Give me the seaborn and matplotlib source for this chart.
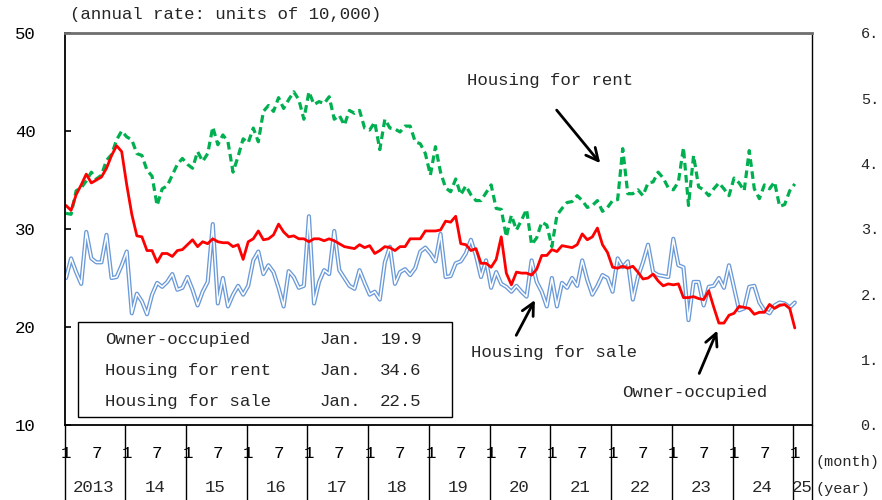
import numpy as np
import pandas as pd
import matplotlib
matplotlib.use('Agg')
import matplotlib.pyplot as plt
import matplotlib.transforms as mtrans
from matplotlib.patches import Rectangle
import seaborn as sns

# monthly series, Jan 2013 .. Jan 2025 (annual rate, units of 10,000)
owner = [32.4, 31.9, 33.5, 34.5, 35.6, 34.7, 35.0, 35.3, 36.2, 37.5, 38.5, 37.9,
         34.5, 31.5, 29.3, 29.2, 27.8, 27.8, 26.6, 27.5, 27.5, 27.2, 27.8, 27.9,
         28.4, 28.9, 28.2, 28.7, 28.5, 29.0, 28.7, 28.6, 28.6, 28.2, 28.4, 26.9,
         28.7, 29.0, 29.8, 28.9, 29.0, 29.4, 30.5, 29.7, 29.2, 29.3, 29.0, 29.0,
         28.7, 29.0, 29.0, 28.8, 29.0, 28.8, 28.5, 28.2, 28.1, 28.0, 28.4, 28.1,
         28.3, 27.5, 27.8, 28.2, 28.1, 27.8, 28.2, 28.2, 29.0, 29.0, 29.0, 29.8,
         29.8, 29.8, 29.9, 30.8, 30.7, 31.3, 28.5, 28.4, 27.8, 28.0, 26.5, 26.5,
         26.1, 26.9, 29.2, 25.5, 24.3, 25.6, 25.5, 25.5, 25.3, 25.9, 27.3, 27.3,
         27.9, 27.7, 28.3, 28.2, 28.1, 28.4, 29.5, 28.9, 29.2, 30.1, 28.4, 27.6,
         26.1, 26.0, 26.2, 26.0, 26.2, 25.6, 24.9, 25.0, 25.4, 24.7, 24.2, 24.4,
         24.3, 24.4, 23.0, 23.0, 23.1, 22.9, 22.8, 23.7, 22.0, 20.4, 20.4, 21.2,
         21.4, 22.1, 22.0, 21.9, 21.3, 21.5, 21.5, 22.3, 21.9, 22.2, 22.3, 21.9,
         19.9]
rent = [31.6, 31.5, 33.9, 34.2, 34.9, 35.8, 35.1, 35.5, 37.0, 37.6, 39.1, 40.0,
        39.4, 39.1, 37.7, 37.5, 36.0, 35.4, 32.4, 34.1, 34.4, 35.5, 36.6, 37.2,
        36.6, 36.2, 37.9, 36.9, 37.7, 40.4, 38.6, 39.6, 38.9, 35.8, 37.4, 39.2,
        38.8, 40.3, 38.9, 42.0, 42.6, 42.0, 43.4, 42.3, 43.2, 44.0, 43.2, 41.2,
        44.0, 42.7, 43.0, 42.8, 43.5, 41.2, 41.6, 40.6, 42.1, 41.8, 42.1, 40.3,
        40.1, 40.9, 38.1, 41.2, 40.3, 40.2, 39.9, 40.5, 40.5, 38.9, 38.7, 37.7,
        35.5, 38.4, 35.8, 34.2, 33.8, 35.1, 33.5, 34.4, 33.5, 32.9, 32.9, 33.7,
        34.5, 32.1, 32.0, 29.2, 31.4, 29.9, 30.9, 32.0, 28.4, 29.1, 30.7, 30.4,
        28.2, 31.4, 32.1, 32.7, 32.8, 33.4, 32.9, 32.2, 32.4, 32.9, 31.8, 32.2,
        32.9, 33.0, 38.2, 33.6, 33.6, 34.0, 33.4, 34.7, 34.8, 35.8, 35.2, 34.2,
        34.0, 34.8, 38.3, 32.4, 37.5, 34.3, 34.0, 33.4, 34.1, 34.7, 34.1, 33.4,
        35.2, 34.7, 33.9, 38.0, 34.1, 33.1, 34.5, 34.1, 34.8, 32.3, 32.5, 33.9,
        34.6]
sale = [25.0, 27.0, 25.6, 24.4, 29.7, 27.0, 26.6, 26.6, 29.4, 25.0, 25.1, 26.3,
        27.7, 21.4, 23.4, 22.6, 21.3, 23.3, 24.5, 24.1, 24.6, 25.4, 23.8, 24.0,
        25.1, 23.8, 22.2, 23.6, 24.6, 30.5, 22.4, 25.0, 22.1, 23.3, 24.2, 23.3,
        24.2, 26.8, 27.7, 25.4, 26.3, 25.6, 24.0, 22.1, 25.7, 25.1, 24.0, 24.2,
        31.3, 22.4, 24.6, 25.8, 25.4, 29.8, 25.8, 25.0, 24.2, 23.9, 25.8, 24.5,
        23.3, 23.6, 22.8, 26.6, 28.2, 24.4, 25.6, 25.9, 25.3, 26.0, 27.7, 28.1,
        27.5, 26.7, 29.5, 25.1, 25.2, 26.5, 26.7, 27.5, 28.9, 27.3, 25.1, 26.8,
        24.0, 25.6, 24.4, 24.1, 23.6, 24.2, 23.6, 23.1, 26.8, 24.6, 23.6, 22.1,
        25.0, 22.1, 24.5, 24.0, 25.0, 24.2, 26.8, 24.8, 23.3, 24.2, 25.3, 25.0,
        23.6, 27.0, 26.1, 26.7, 22.8, 25.1, 26.6, 28.4, 25.6, 25.3, 25.2, 25.1,
        29.0, 26.3, 26.1, 20.7, 24.6, 24.6, 22.2, 24.1, 24.2, 25.0, 24.0, 26.3,
        24.0, 21.7, 21.9, 24.1, 24.2, 22.5, 21.7, 21.4, 22.2, 22.5, 22.4, 22.0,
        22.5]

years = ['2013', '14', '15', '16', '17', '18', '19', '20', '21', '22', '23', '24', '25']
legend_names = ['Owner-occupied', 'Housing for rent', 'Housing for sale']
legend_vals = ['19.9', '34.6', '22.5']
right_labels = ['0.', '1.', '2.', '3.', '4.', '5.', '6.']

sns.set_theme(style='white')
plt.rcParams['font.family'] = ['Liberation Mono', 'DejaVu Sans']
FS = 12.5

df = pd.DataFrame({'m': np.arange(len(owner)), 'owner': owner,
                   'rent': rent, 'sale': sale})

fig = plt.figure(figsize=(8.82, 5), dpi=100)
ax = fig.add_axes([65 / 882, 75 / 500, 747 / 882, 392 / 500])

# sale is a double line: blue outline with a pale core
sns.lineplot(data=df, x='m', y='sale', color='#6b9ad8', lw=3.0, ax=ax)
sns.lineplot(data=df, x='m', y='sale', color='white', lw=1.1, ax=ax)
sns.lineplot(data=df, x='m', y='rent', color='#00b050', lw=2.3,
             linestyle=(0, (2.4, 1.4)), ax=ax)
sns.lineplot(data=df, x='m', y='owner', color='#ff0000', lw=2.0, ax=ax)

ax.set_xlim(-0.2, 147.4)
ax.set_ylim(10, 50)
ax.set_xlabel('')
ax.set_ylabel('')
ax.set_yticks([10, 20, 30, 40, 50])
ax.tick_params(axis='y', direction='in', length=4.5, width=1.2, pad=21,
               labelsize=FS, colors='black', left=True)

# month ticks: 1 and 7 for each year
xt = []
xl = []
for k in range(len(years)):
    xt.append(12 * k)
    xl.append('1')
    if k < len(years) - 1:
        xt.append(12 * k + 6)
        xl.append('7')
ax.set_xticks(xt)
ax.set_xticklabels(xl)
ax.tick_params(axis='x', length=0, pad=15, labelsize=FS, colors='black')

for side in ['left', 'bottom', 'right']:
    ax.spines[side].set_color('black')
    ax.spines[side].set_linewidth(1.3)
ax.spines['right'].set_linewidth(1.0)
ax.spines['top'].set_color('#6e6e6e')
ax.spines['top'].set_linewidth(2.0)

# year row and separators below the axis
trans = mtrans.blended_transform_factory(ax.transData, ax.transAxes)
bottom = -75 / 392
seps = [-0.2] + [12 * k - 0.3 for k in range(1, len(years))] + [147.4]
for s in seps:
    ax.plot([s, s], [0, bottom], transform=trans, color='black', lw=1.0,
            clip_on=False)
for k, yr in enumerate(years):
    xpos = 12 * k + 5.5 if k < len(years) - 1 else 145.5
    ax.text(xpos, -62 / 392, yr, transform=trans, ha='center', va='center',
            fontsize=FS)
fig.text(815 / 882, 1 - 462 / 500, '(month)', fontsize=11, va='center')
fig.text(815 / 882, 1 - 489 / 500, '(year)', fontsize=11, va='center')
fig.text(70 / 882, 1 - 14 / 500, '(annual rate: units of 10,000)',
         fontsize=FS, va='center')

# right axis (cut off at the image edge)
ax2 = ax.twinx()
ax2.set_ylim(0, 6)
ax2.set_yticks(range(7))
ax2.set_yticklabels(right_labels)
ax2.tick_params(axis='y', length=0, pad=35, labelsize=11)
ax2.grid(False)
for side in ['left', 'bottom', 'top', 'right']:
    ax2.spines[side].set_visible(False)

# value box
ax.add_patch(Rectangle((0.0174, 0.0204), 0.5006, 0.2426, transform=ax.transAxes,
                       fill=True, facecolor='white', edgecolor='black', lw=1.0,
                       zorder=5))
rows = [0.217, 0.140, 0.0587]
for name, val, yy in zip(legend_names, legend_vals, rows):
    ax.text(0.0535, yy, name, transform=ax.transAxes, va='center',
            fontsize=FS, zorder=6)
    ax.text(0.341, yy, 'Jan.', transform=ax.transAxes, va='center',
            fontsize=FS, zorder=6)
    ax.text(0.422, yy, val, transform=ax.transAxes, va='center',
            fontsize=FS, zorder=6)

# callouts
arrow = dict(arrowstyle='->', color='black', lw=2.0, mutation_scale=22)
ax.annotate('', xy=(105.9, 36.5), xytext=(96.6, 42.35), arrowprops=arrow)
ax.text(79.2, 45.2, 'Housing for rent', va='center', fontsize=FS)
ax.annotate('', xy=(92.9, 23.0), xytext=(88.7, 18.9), arrowprops=arrow)
ax.text(80.0, 17.35, 'Housing for sale', va='center', fontsize=FS)
ax.annotate('', xy=(128.9, 19.9), xytext=(124.9, 15.0), arrowprops=arrow)
ax.text(109.9, 13.3, 'Owner-occupied', va='center', fontsize=FS)

fig.savefig('out.png', dpi=100)
